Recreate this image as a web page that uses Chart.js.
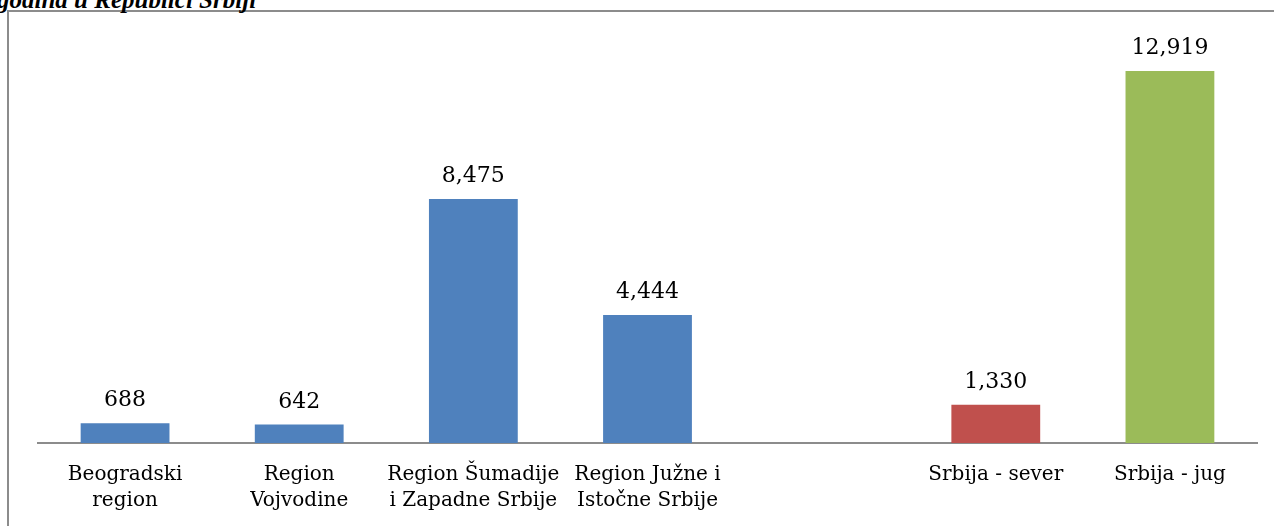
<!DOCTYPE html>
<html lang="sr">
<head>
  <meta charset="UTF-8">
  <title>Regioni Srbije</title>
  <script src="https://cdn.jsdelivr.net/npm/chart.js"></script>
  <style>
    * { box-sizing: border-box; }

    body {
      margin: 0;
      background: #fff;
      overflow: hidden;
    }

    .wrap {
      position: relative;
      width: 1274px;
      height: 526px;
    }

    .frame {
      position: absolute;
      left: 7px;
      top: 10px;
      width: 1267px;
      height: 530px;
      border-left: 2px solid #8c8c8c;
      border-top: 2px solid #8c8c8c;
    }

    .title {
      position: absolute;
      left: -3px;
      top: -14px;
      font-family: 'Liberation Serif', serif;
      font-weight: bold;
      font-style: italic;
      font-size: 25px;
      color: #000;
      white-space: nowrap;
    }

    canvas {
      position: absolute;
      left: 0;
      top: 0;
    }
  </style>
</head>
<body>

<div class="wrap">
  <div class="frame"></div>
  <div class="title">godina u Republici Srbiji</div>
  <canvas id="regionChart"></canvas>
</div>

<script>
// podaci po regionima (prazna kategorija odvaja regione od zbira sever/jug)
const regions = [
  ['Beogradski', 'region'],
  ['Region', 'Vojvodine'],
  ['Region Šumadije', 'i Zapadne Srbije'],
  ['Region Južne i', 'Istočne Srbije'],
  '',
  'Srbija - sever',
  'Srbija - jug'
];
const values = [688, 642, 8475, 4444, null, 1330, 12919];
const barColors = ['#4F81BD', '#4F81BD', '#4F81BD', '#4F81BD', '#4F81BD', '#C0504D', '#9BBB59'];

// vrednosti iznad stubova
const valueLabels = {
  id: 'valueLabels',
  afterDatasetsDraw(chart) {
    const ctx = chart.ctx;
    const meta = chart.getDatasetMeta(0);
    ctx.save();
    ctx.font = '22px "DejaVu Serif", serif';
    ctx.fillStyle = '#000';
    ctx.textAlign = 'center';
    ctx.textBaseline = 'alphabetic';
    meta.data.forEach((bar, i) => {
      const v = values[i];
      if (v === null) return;
      ctx.fillText(v.toLocaleString('en-US'), bar.x, bar.y - 17);
    });
    ctx.restore();
  }
};

const ctx = document.getElementById('regionChart').getContext('2d');

new Chart(ctx, {
  type: 'bar',
  data: {
    labels: regions,
    datasets: [{
      data: values,
      backgroundColor: barColors,
      borderWidth: 0,
      categoryPercentage: 1,
      barPercentage: 0.51
    }]
  },
  options: {
    responsive: true,
    maintainAspectRatio: false,
    animation: false,
    layout: {
      padding: { left: 38, right: 17, top: 40, bottom: 0 }
    },
    plugins: {
      legend: { display: false },
      tooltip: { enabled: false }
    },
    scales: {
      x: {
        grid: { display: false, drawTicks: false },
        border: { display: true, color: '#8c8c8c', width: 2 },
        ticks: {
          color: '#000',
          padding: 19,
          maxRotation: 0,
          autoSkip: false,
          font: { family: '"DejaVu Serif", serif', size: 20, lineHeight: 1.3 }
        },
        afterFit(scale) {
          scale.height = 83;
        }
      },
      y: {
        display: false,
        min: 0,
        max: 14000
      }
    }
  },
  plugins: [valueLabels]
});
</script>

</body>
</html>
